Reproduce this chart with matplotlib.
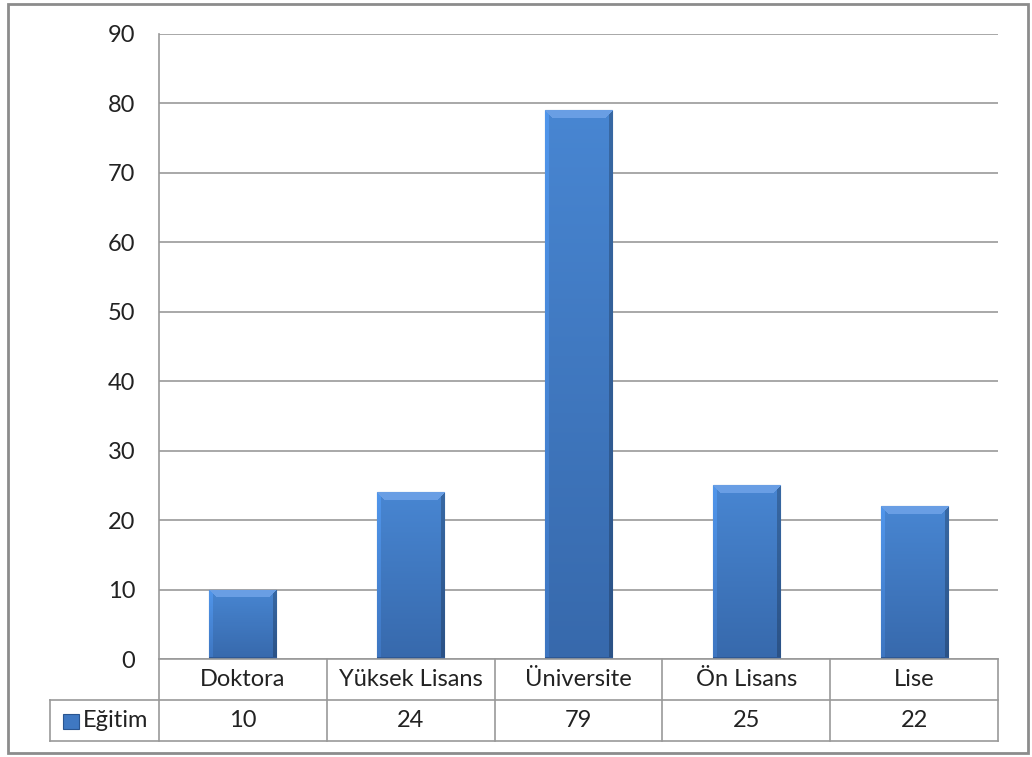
import numpy as np
import matplotlib

matplotlib.use("Agg")
import matplotlib.pyplot as plt
from matplotlib.patches import Rectangle
from matplotlib.lines import Line2D

# Eğitim durumu dağılımı
kategoriler = ["Doktora", "Yüksek Lisans", "Üniversite", "Ön Lisans", "Lise"]
degerler = [10, 24, 79, 25, 22]
seri_adi = "Eğitim"
y_ticks = [0, 10, 20, 30, 40, 50, 60, 70, 80, 90]

W, H = 1032, 757
FS = 17
plt.rcParams["font.family"] = ["Lato", "DejaVu Sans"]

fig = plt.figure(figsize=(W / 100, H / 100), dpi=100)


def fx(px):
    return px / W


def fy(py):
    return 1 - py / H


# grafik alanı (piksel sınırları)
L, R, T, B = 159, 998, 34, 659
ax = fig.add_axes([fx(L), fy(B), fx(R - L), fy(T) - fy(B)])
ax.set_xlim(-0.5, len(kategoriler) - 0.5)
ax.set_ylim(0, 90)
ax.set_yticks(y_ticks)
ax.set_yticklabels([str(t) for t in y_ticks], fontsize=FS, color="#222222")
ax.tick_params(axis="y", length=0, pad=17)
ax.set_xticks([])
for s in ["top", "right", "bottom"]:
    ax.spines[s].set_visible(False)
ax.spines["left"].set_color("#999999")
ax.spines["left"].set_linewidth(1.2)
ax.grid(axis="y", color="#999999", linewidth=1.2)
ax.set_axisbelow(True)


def bevel_image(w_px, h_px, bevel=8):
    # mavi zemin + üstte açık, sağda koyu kenar
    base = np.array([72, 134, 210]) / 255
    bottom = np.array([55, 105, 172]) / 255
    t = np.linspace(0, 1, h_px)[:, None, None]
    img = base * (1 - t) + bottom * t
    img = np.repeat(img, w_px, axis=1)
    yy, xx = np.mgrid[0:h_px, 0:w_px]
    top = (yy < bevel) & (xx >= yy) & (xx <= w_px - 1 - yy)
    img[top] = np.array([105, 158, 228]) / 255
    left = (xx < 4) & ~top
    img[left] = img[left] * 1.12
    right = (xx > w_px - 1 - 4) & ~top
    img[right] = img[right] * 0.78
    bot = yy > h_px - 3
    img[bot] = np.array([45, 88, 150]) / 255
    return np.clip(img, 0, 1)


bar_w = 0.4
px_per_x = (R - L) / len(kategoriler)
px_per_y = (B - T) / 90
bars = ax.bar(range(len(kategoriler)), degerler, width=bar_w,
              color="#4682cd", edgecolor="#2e5c98", linewidth=0.8, zorder=2)
for b, v in zip(bars, degerler):
    w_px = int(round(bar_w * px_per_x))
    h_px = max(int(round(v * px_per_y)), 8)
    im = ax.imshow(bevel_image(w_px, h_px),
                   extent=[b.get_x(), b.get_x() + bar_w, 0, v],
                   aspect="auto", zorder=3, interpolation="nearest")
    im.set_clip_path(b)
ax.set_xlim(-0.5, len(kategoriler) - 0.5)
ax.set_ylim(0, 90)

# veri tablosu
lc = "#999999"
lw = 1.2
row1, row2 = 700, 741
tl = 50
cols = [L + i * px_per_x for i in range(len(kategoriler) + 1)]
fig.add_artist(Line2D([fx(L), fx(R)], [fy(B), fy(B)], color=lc, lw=lw))
fig.add_artist(Line2D([fx(tl), fx(R)], [fy(row1), fy(row1)], color=lc, lw=lw))
fig.add_artist(Line2D([fx(tl), fx(R)], [fy(row2), fy(row2)], color=lc, lw=lw))
fig.add_artist(Line2D([fx(tl), fx(tl)], [fy(row1), fy(row2)], color=lc, lw=lw))
for c in cols:
    fig.add_artist(Line2D([fx(c), fx(c)], [fy(B), fy(row2)], color=lc, lw=lw))

for i, (k, v) in enumerate(zip(kategoriler, degerler)):
    cx = (cols[i] + cols[i + 1]) / 2
    fig.text(fx(cx), fy((B + row1) / 2), k, ha="center", va="center",
             fontsize=FS, color="#222222")
    fig.text(fx(cx), fy((row1 + row2) / 2), str(v), ha="center", va="center",
             fontsize=FS, color="#222222")

# lejant işareti ve seri adı
fig.add_artist(Rectangle((fx(63), fy(729)), fx(16), fy(714) - fy(729),
                         facecolor="#3f78c2", edgecolor="#2a5590", lw=0.8))
fig.text(fx(83), fy((row1 + row2) / 2), seri_adi, ha="left", va="center",
         fontsize=FS, color="#222222")

# dış çerçeve
fig.add_artist(Rectangle((fx(8), fy(753)), fx(1028 - 8), fy(4) - fy(753),
                         fill=False, edgecolor="#8c8c8c", lw=2))

fig.savefig("out.png", dpi=100)
